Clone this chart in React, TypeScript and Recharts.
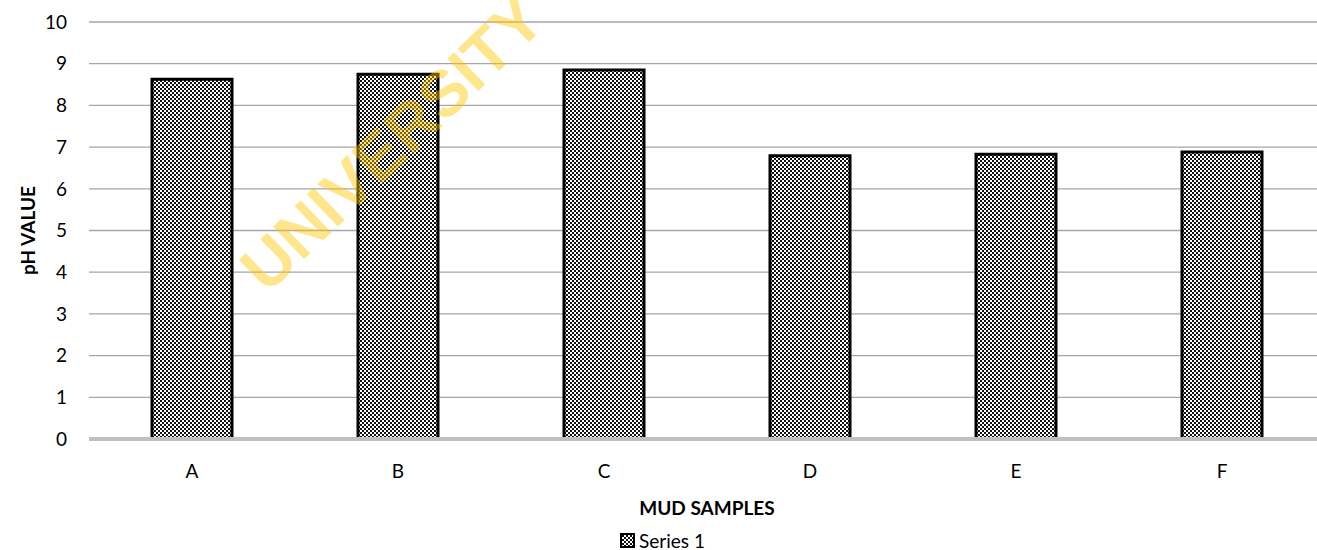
import React from 'react'
import {
  BarChart,
  Bar,
  XAxis,
  YAxis,
  CartesianGrid,
  Legend,
} from 'recharts'

const samples = ['A', 'B', 'C', 'D', 'E', 'F']
const phValues = [8.63, 8.75, 8.85, 6.79, 6.83, 6.88]
const yTicks = [0, 1, 2, 3, 4, 5, 6, 7, 8, 9, 10]

const data = samples.map((s, i) => ({ sample: s, ph: phValues[i] }))

const font = 'Lato, "Open Sans", sans-serif'

function LegendBox() {
  return (
    <div
      style={{
        height: 20,
        marginTop: 11,
        display: 'flex',
        justifyContent: 'center',
        alignItems: 'center',
        fontFamily: font,
        fontSize: 19,
        color: '#000',
      }}
    >
      <svg width={15} height={15} style={{ marginRight: 4 }}>
        <rect x={1} y={1} width={13} height={13} fill="url(#checker)" stroke="#000" strokeWidth={2} />
      </svg>
      <span>Series 1</span>
    </div>
  )
}

function YTitle(props: { viewBox?: { x: number; y: number; width: number; height: number } }) {
  const vb = props.viewBox ?? { x: 0, y: 0, width: 0, height: 0 }
  const cy = vb.y + vb.height / 2
  return (
    <text
      x={27}
      y={cy}
      transform={`rotate(-90, 27, ${cy})`}
      textAnchor="middle"
      dominantBaseline="central"
      fontFamily={font}
      fontWeight={700}
      fontSize={19}
      fill="#000"
    >
      pH VALUE
    </text>
  )
}

export default function App() {
  return (
    <div
      style={{
        position: 'fixed',
        top: 0,
        left: 0,
        width: 1317,
        height: 550,
        overflow: 'hidden',
        background: '#fff',
      }}
    >
      <BarChart
        width={1325}
        height={550}
        data={data}
        margin={{ top: 22, right: 0, bottom: 0, left: 0 }}
        barSize={80}
      >
        <defs>
          <pattern id="checker" width={4} height={4} patternUnits="userSpaceOnUse">
            <rect width={4} height={4} fill="#fff" />
            <rect x={0} y={0} width={2} height={2} fill="#111" />
            <rect x={2} y={2} width={2} height={2} fill="#111" />
          </pattern>
        </defs>
        <CartesianGrid vertical={false} stroke="#a6a6a6" strokeWidth={1.3} />
        <XAxis
          dataKey="sample"
          height={80}
          tickSize={0}
          tickMargin={26}
          axisLine={{ stroke: '#bfbfbf', strokeWidth: 4 }}
          tick={{ fontFamily: font, fontSize: 19, fill: '#000' }}
          label={{
            value: 'MUD SAMPLES',
            position: 'insideBottom',
            offset: 4,
            fontFamily: font,
            fontWeight: 700,
            fontSize: 19,
            fill: '#000',
          }}
        />
        <YAxis
          width={89}
          domain={[0, 10]}
          ticks={yTicks}
          interval={0}
          tickSize={0}
          tickMargin={22}
          axisLine={false}
          tick={{ fontFamily: font, fontSize: 19, fill: '#000' }}
          label={<YTitle />}
        />
        <Legend verticalAlign="bottom" content={<LegendBox />} />
        <Bar
          dataKey="ph"
          name="Series 1"
          fill="url(#checker)"
          stroke="#000"
          strokeWidth={3}
          isAnimationActive={false}
        />
      </BarChart>
      <div
        style={{
          position: 'absolute',
          left: 392,
          top: 143,
          transform: 'translate(-50%, -50%) rotate(-44deg)',
          fontFamily: '"Liberation Sans", Arial, sans-serif',
          fontWeight: 700,
          fontSize: 65,
          color: 'rgba(255, 200, 0, 0.45)',
          whiteSpace: 'nowrap',
          pointerEvents: 'none',
        }}
      >
        UNIVERSITY
      </div>
    </div>
  )
}
